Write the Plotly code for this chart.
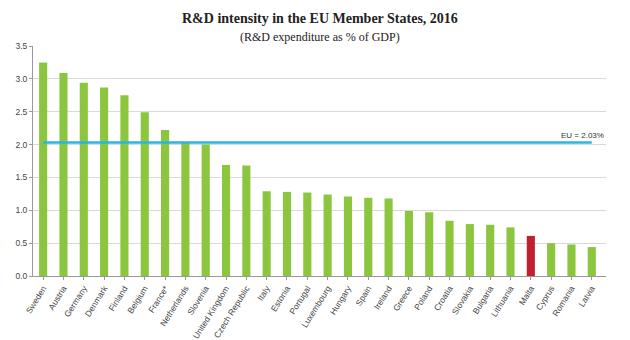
import plotly.graph_objects as go

countries = ["Sweden", "Austria", "Germany", "Denmark", "Finland", "Belgium", "France*",
             "Netherlands", "Slovenia", "United Kingdom", "Czech Republic", "Italy", "Estonia",
             "Portugal", "Luxembourg", "Hungary", "Spain", "Ireland", "Greece", "Poland",
             "Croatia", "Slovakia", "Bulgaria", "Lithuania", "Malta", "Cyprus", "Romania", "Latvia"]
values = [3.25, 3.09, 2.94, 2.87, 2.75, 2.49, 2.22, 2.03, 2.00, 1.69, 1.68, 1.29, 1.28,
          1.27, 1.24, 1.21, 1.19, 1.18, 0.99, 0.97, 0.84, 0.79, 0.78, 0.74, 0.61, 0.50, 0.48, 0.44]
eu_value = 2.03
highlight = "Malta"
title_text = "R&D intensity in the EU Member States, 2016"
subtitle_text = "(R&D expenditure as % of GDP)"

colors = ["#C0202F" if c == highlight else "#8CC63F" for c in countries]

fig = go.Figure()
fig.add_trace(go.Bar(x=countries, y=values, marker_color=colors, marker_line_width=0,
                     width=0.4, showlegend=False))
fig.add_trace(go.Scatter(x=[countries[0], countries[-1]], y=[eu_value, eu_value], mode="lines",
                         line=dict(color="#2BB3E3", width=2.5), showlegend=False))
fig.add_annotation(x=1, xref="paper", y=eu_value, yref="y", text=f"EU = {eu_value:.2f}%",
                   showarrow=False, xanchor="right", yanchor="bottom", yshift=1,
                   font=dict(family="Liberation Sans, Arial", size=8, color="#333"))
fig.add_annotation(x=0.5, xref="paper", y=18, yref="paper", yanchor="middle", xanchor="center",
                   text=f"<b>{title_text}</b>", showarrow=False,
                   font=dict(family="Liberation Serif, Times New Roman, serif", size=14, color="#222"))
fig.add_annotation(x=0.5, xref="paper", y=0, yref="paper", yanchor="middle", xanchor="center",
                   text=subtitle_text, showarrow=False,
                   font=dict(family="Liberation Serif, Times New Roman, serif", size=12, color="#222"))

fig.update_layout(
    width=630, height=340,
    margin=dict(l=33, r=24, t=46, b=64),
    paper_bgcolor="white", plot_bgcolor="white",
    bargap=0.6,
)
plot_h = 340 - 46 - 64
fig.layout.annotations[1].y = 1 + (46 - 18) / plot_h
fig.layout.annotations[2].y = 1 + (46 - 37) / plot_h

fig.update_xaxes(tickangle=-58, tickfont=dict(family="Liberation Sans, Arial", size=8.5, color="#444"),
                 showline=True, linecolor="#999", linewidth=1, ticks="outside", ticklen=3,
                 tickcolor="#999", showgrid=False, range=[-0.5, len(countries) - 0.3],
                 automargin=False)
fig.update_yaxes(range=[0, 3.5], dtick=0.5, tickformat=".1f",
                 tickfont=dict(family="Liberation Sans, Arial", size=8.5, color="#444"),
                 showgrid=True, gridcolor="#D9D9D9", gridwidth=1,
                 showline=True, linecolor="#999", ticks="outside", ticklen=3, tickcolor="#999",
                 zeroline=False, automargin=False)

fig.write_html("out.html")
